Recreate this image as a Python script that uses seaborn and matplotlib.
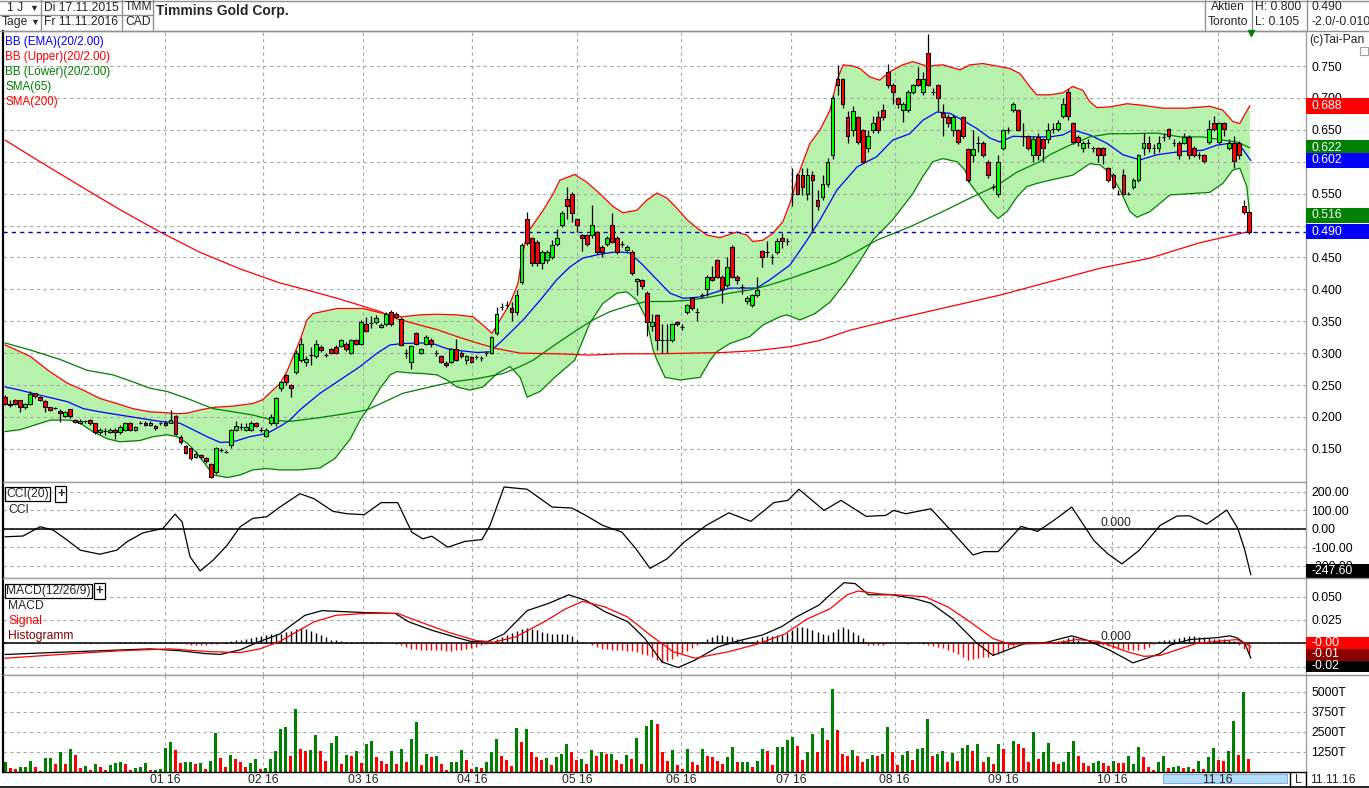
import numpy as np
import matplotlib
matplotlib.use("Agg")
import matplotlib.pyplot as plt
import matplotlib.patches as mpatches
import matplotlib.transforms as mtrans
from matplotlib.lines import Line2D
from matplotlib.ticker import FuncFormatter
import seaborn as sns

# ---------------------------------------------------------
# Daily candles, prices in 1/1000 CAD (17.11.2015 - 11.11.2016)
# ---------------------------------------------------------
opens = [232,218,226,226,216,220,237,232,225,215, 214,210,202,212,195,190,193,195,190,176,
         178,176,180,176,180,190,180,191,191,187, 186,190,191,191,201,169,155,151,137,140,
         136,127,114,148,145,156,180,185,180,180, 190,180,170,190,
         190,245,266,250,271,289,286,297,295,310, 297,306,310,311,315,300,320,315,346,348,
         349,341,346,365,362,354,300,286,331,300, 315,321,300,295,285,286,306,301,290,294,
         294,292,300,300,331,373,375,370,365,
         412,510,480,475,441,446,451,471,501,541, 550,510,485,485,485,490,467,471,501,480,
         471,461,459,413,415,395,342,360,320,320, 320,349,341,365,386,365,391,400,420,446,
         420,407,467,420,404,381,375,391,460,459, 451,459,480,476,
         550,580,580,550,580,540,545,565,610,730, 730,670,650,670,650,621,650,670,681,740,
         720,700,681,681,710,730,710,770,710,720, 676,670,650,650,670,620,610,630,630,600,
         560,550,621,650,681,681,640,640,
         610,639,636,636,652,652,671,710,660,639, 621,630,621,621,621,590,580,550,580,550,
         561,571,621,630,621,621,639,651,630,630, 630,639,621,610,610,631,660,631,660,621,
         630,630,530,521]
closes = [220,221,220,215,220,236,233,227,215,211, 214,206,207,201,192,194,193,190,176,180,
          178,180,176,185,190,180,185,191,187,191, 182,190,187,195,174,160,144,135,142,137,
          131,106,151,148,145,180,186,185,185,190, 186,180,180,200,
          229,255,255,245,300,315,291,297,315,305, 297,300,300,320,306,320,315,349,335,348,
          355,344,361,346,357,313,300,311,315,306, 326,315,300,286,281,306,290,296,295,286,
          294,292,300,325,361,373,375,365,391,
          469,472,441,441,459,459,469,480,520,530, 520,501,480,471,501,459,459,480,475,459,
          471,467,425,416,405,349,349,320,320,320, 345,345,341,375,370,365,391,420,415,420,
          400,435,420,415,404,386,391,399,450,459, 451,476,476,476,
          550,550,560,580,571,530,565,600,700,720, 690,640,680,631,600,640,660,650,670,720,
          710,690,690,710,720,720,730,720,710,700, 670,660,670,631,640,571,620,630,610,580,
          560,600,650,650,690,650,640,621,
          636,610,621,650,652,660,690,671,631,631, 630,630,621,610,610,571,561,550,550,550,
          571,610,630,621,621,630,639,640,630,610, 639,610,610,610,601,651,651,660,651,630,
          601,610,521,490]
highs = [234,226,228,227,222,241,238,233,226,216, 216,212,209,213,196,196,195,196,191,182,
         182,182,182,187,192,192,186,193,193,193, 188,192,193,211,203,171,156,152,146,142,
         137,128,153,151,148,181,194,190,190,193, 192,184,182,205,
         232,257,268,252,305,324,296,310,321,312, 300,308,312,322,317,322,322,352,356,358,
         360,347,364,368,364,356,306,313,333,308, 328,323,305,297,287,308,322,304,297,296,
         297,295,304,327,373,379,381,380,399,
         472,521,482,477,462,462,478,495,523,560, 552,512,487,487,532,492,470,483,520,483,
         476,469,461,418,417,397,362,362,345,345, 348,351,345,377,388,370,395,422,436,448,
         422,450,469,422,408,390,393,420,462,476, 455,480,488,480,
         590,583,590,590,585,555,580,606,705,752, 732,680,688,672,652,650,672,680,690,754,
         724,702,694,712,722,748,740,800,715,722, 690,675,673,652,672,622,650,640,632,602,
         565,610,652,655,693,683,660,642,
         640,645,638,660,660,665,700,714,663,642, 633,635,625,623,623,592,582,555,588,552,
         575,612,645,640,628,640,645,653,635,632, 645,642,625,615,612,665,672,662,662,635,
         640,632,540,523]
lows = [218,216,218,208,212,218,230,225,207,209, 212,192,200,199,190,189,191,188,174,174,
        172,175,166,174,178,178,178,189,186,186, 180,188,186,190,172,158,142,133,135,134,
        128,105,110,145,143,152,178,180,178,178, 184,176,168,188,
        186,240,250,232,268,286,280,282,292,302, 294,298,298,309,304,298,313,313,333,340,
        346,339,343,343,355,311,292,275,313,298, 313,310,295,284,279,284,288,293,283,284,
        291,288,296,298,329,368,370,350,360,
        408,470,436,437,432,442,448,468,498,511, 505,490,460,468,480,455,450,468,472,455,
        466,459,423,391,400,327,335,305,300,300, 318,343,337,361,367,350,387,389,413,418,
        378,404,418,408,393,377,373,388,435,450, 440,456,465,470,
        530,548,548,540,490,525,540,560,605,705, 685,630,640,628,598,615,645,645,665,715,
        690,685,662,678,706,718,705,718,705,680, 640,655,640,628,637,568,600,615,607,575,
        555,545,618,645,678,648,625,618,
        600,603,600,630,645,648,668,665,628,625, 615,622,615,600,597,568,557,548,548,548,
        558,568,610,616,612,615,633,636,625,605, 628,605,607,605,598,628,648,628,640,618,
        590,605,518,486]

# volume in thousand shares (nan = holiday gap), colour g/r per day
volume = [624,229,166,312,312,686,312,62,874,874, 500,1248,500,1435,1061,250,374,125,500,312,
          125,437,562,624,500,125,250,312,562,125, 125,187,1498,1872,1373,562,624,624,500,562,
          187,686,2434,874,312,1061,811,624,312,562, 811,187,250,811,1310,2683,2808,998,3931,1435,
          1310,1373,2309,1310,686,1810,2246,500,1061,998, 1310,562,1747,1934,936,686,500,1310,500,1435,
          624,2059,3120,437,1123,936,998,500,125,624, 624,1373,749,187,312,250,624,1248,2059,998,
          749,374,2746,1872,2683,1248,936,749,874,437, 936,1123,1747,1248,749,811,500,1373,998,1248,
          1123,1123,749,500,1061,811,2122,500,2870,3245, 2995,1248,686,1373,437,187,1435,624,437,1435,
          998,936,686,500,936,1560,624,624,624,312, 686,1435,1310,437,1560,1560,1997,2184,1622,749,
          1248,2371,1248,2746,1997,5179,2621,1123,998,1373, 998,624,811,1061,998,1123,2808,1248,437,1061,
          1310,749,1435,1498,3307,998,1123,1310,624,1186, 686,1498,1685,1310,1747,624,936,500,1747,1435,
          np.nan,1934,1747,1498,624,2496,811,1248,1810,624,500, 624,1248,1934,998,562,374,562,686,562,374,
          686,562,562,998,500,1560,936,312,125,624, 998,250,312,374,250,312,187,686,187,936,
          1498,749,686,1310,3183,1061,4992,811]
volume_col = ("grrgggrrgg" "rgrgrrgrgr" "rgggrrgggr" "ggggrrggrg" "rggrrgrrrg" "grgggggrgr"
              "rggrrggrgr" "grggrrrgrg" "rggrgrgrrg" "ggrrgrgggr" "rrgrgrrrgr" "gggrrgrgrg"
              "rgrrgrgrgg" "rrrgrrgrrg" "rrrrggrggr" "ggrrggggrr" "ggrgrgrrrg" "rrggrggrrg"
              "grgggrggrg" "rggrgrgrgr" "g" "grrrgrggrr" "gggrrrggrr" "grrgggrrrg" "grggrgrgrg"
              "grrggrgr")

# MACD histogram per day (1/1000)
macd_hist = [1,0,0,0,0,0,0,0,0,0, 0,0,0,0,0,1,1,1,0,0, 0,0,0,1,1,1,1,1,1,1,
             1,1,1,1,1,1,-1,-2,-2,-2, -2,-1,-1,0,1,2,3,4,5,6, 7,8,9,10,10,10,12,13,15,16,
             15,13,11,9,7,4,3,2,1,1, 1,1,1,1,1,1,0,0,-1,-2, -4,-6,-6,-7,-7,-7,-7,-7,-8,-8,
             -7,-7,-6,-5,-4,-2,-1,2,5,7, 9,11,13,15,16,15,14,12,11,10, 10,10,10,8,4,1,0,-2,-4,-6,
             -6,-7,-7,-7,-8,-8,-9,-11,-13,-15, -18,-20,-19,-17,-14,-10,-8,-5,-2,1,
             5,7,9,9,8,7,5,3,1,1, 4,7,8,8,9,9,11,14,18,17, 16,14,12,10,9,12,15,18,15,12,
             9,6,-2,-2,-2,-2,0,0,0,0, -1,0,0,-1,-2,-3,-4,-5,-7,-9, -12,-15,-18,-17,-16,-15,-15,-13,-11,-8,
             -5,-3,1,1,1,0,0,0,1,1, 2,4,6,7,4,1,0,-1,-2,-2, -3,-5,-6,-6,-7,-7,-7,-6,-4,-1,
             2,3,4,5,6,7,8,8,7,7, 6,5,5,5,4,2,-2,-6,-12]

# ---------------------------------------------------------
# Indicator lines: (day, value)
# ---------------------------------------------------------
bb_up_day = [0,5.0,8.6,12.4,15.6,18.9,22.3,25.5,28.9,31.5, 34.3,36.3,38.9,41.5,45.5,49.4,51.4,53.4,54.8,56.2,
             58.8,60.2,61.4,66.2,71.4,73.4,76.2,79.1,82.7,86.1, 90.1,93.3,95.3,97.1,98.7,100.7,102.3,103.1,104.1,107.3,
             109.3,110.6,113.6,116.0,118.6,121.2,123.2,126.0,128.0,130.0, 132.0,134.0,136.0,138.0,140.0,142.5,145.9,147.9,149.1,151.1,
             153.1,155.1,156.5,158.5,160.5,162.5,164.5,165.9,167.1,169.1, 170.5,172.4,174.4,176.4,179.0,181.0,183.8,187.0,190.4,192.4,
             195.0,197.8,200.4,202.4,204.3,205.7,208.3,210.9,212.9,214.9, 216.3,217.7,220.3,223.7,226.3,230.9,235.6,240.2,242.8,244.8,
             246.2,248.2]
bb_up = [313,295,273,253,242,229,221,213,208,207, 205,206,211,215,217,221,227,242,252,271,
         320,352,362,370,370,366,361,357,360,361, 360,357,344,331,352,378,410,451,488,524,
         550,571,580,568,550,530,520,524,540,551, 543,527,509,496,485,481,490,485,475,477,
         488,506,535,587,629,650,681,728,752,750, 746,733,728,741,752,757,750,752,744,752,
         754,750,746,738,718,705,705,708,718,712, 694,685,686,691,689,684,684,687,681,663,
         660,688]
bb_low_day = [0,3.0,9.0,13.0,15.0,17.5,20.3,22.9,26.9,29.5, 32.3,34.3,36.3,38.3,40.3,41.5,44.3,46.9,49.4,52.2,
              54.8,58.8,62.8,65.8,68.8,70.8,72.2,74.8,76.8,78.1, 80.7,83.3,86.1,88.1,90.1,92.7,95.3,98.1,100.7,102.7,
              104.1,106.7,109.6,113.6,116.6,119.2,122.0,124.0,126.0,128.0, 129.2,130.0,131.6,134.6,138.6,140.6,141.9,144.5,148.5,151.1,
              154.5,155.9,158.5,161.5,164.5,167.5,170.5,173.0,177.0,181.0, 183.0,185.0,187.0,189.8,191.4,192.4,194.4,196.4,198.0,199.8,
              201.8,203.7,205.7,208.3,212.9,216.3,218.4,220.3,222.3,224.3, 225.7,228.3,232.3,236.2,240.2,242.8,244.8,246.2,247.6,248.2]
bb_low = [177,180,195,195,190,177,166,161,163,169, 172,169,159,143,122,109,105,109,117,119,
          117,117,120,135,165,195,211,245,266,271, 269,268,266,258,247,242,247,268,279,262,
          231,240,262,289,347,378,394,396,383,352, 305,289,262,258,262,289,302,315,326,344,
          357,360,352,362,380,410,445,477,509,550, 577,600,605,600,587,566,545,524,511,522,
          545,561,566,571,579,597,595,582,556,522, 513,522,548,550,552,566,587,590,561,516]
ema_day = [0,3.0,7.0,12.4,15.6,18.9,22.9,26.9,30.9,34.9, 37.5,40.3,42.9,45.5,48.8,52.2,54.8,56.8,58.8,62.8,
           66.8,70.8,74.2,76.8,79.3,82.7,85.3,88.1,90.7,94.1, 96.7,99.3,103.3,106.7,110.0,112.6,115.2,118.6,122.0,124.6,
           127.2,130.0,132.6,135.2,138.6,141.9,144.5,147.1,149.9,152.5, 155.1,156.5,159.9,162.5,165.9,169.9,173.8,177.0,180.4,183.0,
           185.8,188.4,191.0,193.8,196.4,198.4,201.0,204.3,208.3,210.9, 212.9,216.3,219.7,222.9,226.3,229.7,234.3,238.8,241.6,244.2,
           246.2,248.4]
ema = [247,242,234,224,213,208,203,198,193,190, 180,169,160,161,169,174,185,195,211,237,
       258,279,300,313,315,316,315,307,304,301, 302,321,352,383,415,435,449,455,459,457,
       438,415,394,386,388,396,402,402,402,415, 430,438,477,509,556,592,608,634,644,665,
       678,676,665,652,637,631,640,639,639,642, 650,642,629,611,603,611,616,618,626,629,
       626,602]
sma65_day = [0,5.0,11.0,16.4,21.5,25.5,28.9,32.3,36.3,38.9, 41.5,45.5,49.4,53.4,56.8,62.8,67.8,72.2,79.3,84.7,
             89.3,94.1,99.3,102.7,105.3,110.0,114.0,117.2,120.6,124.6, 128.0,132.6,136.6,140.6,144.5,148.5,152.5,156.5,160.5,165.5,
             169.5,173.8,180.4,187.0,192.4,197.8,201.8,206.3,208.3,212.3, 216.3,220.3,224.3,229.7,234.3,238.8,242.8,245.6,248.2]
sma65 = [316,305,290,273,266,255,245,240,229,221, 213,208,203,195,193,199,205,211,237,247,
         255,260,268,279,289,315,336,352,365,375, 381,381,383,388,394,399,407,417,428,442,
         458,477,498,522,543,563,584,600,611,626, 639,644,644,645,639,639,634,631,622]
sma200_day = [0,7.0,15.0,22.9,30.9,38.9,46.9,54.8,60.2,66.2, 70.8,74.8,78.1,82.7,86.1,90.1,94.1,98.1,102.7,110.0,
              116.6,123.2,130.0,136.6,143.1,149.9,156.5,162.5,168.5,178.4, 198.4,218.3,228.3,238.2,248.2]
sma200 = [634,600,562,525,490,458,432,410,399,386, 375,365,354,344,337,326,316,307,300,299,
          297,299,299,300,301,304,310,320,336,355, 391,433,449,473,491]

cci_day = [0,3.6,7.0,9.6,12.4,15.0,18.9,22.3,24.3,27.5, 31.5,33.9,35.3,36.9,38.9,41.5,44.3,46.9,49.4,52.2,
           54.8,58.8,61.6,65.4,68.2,71.6,75.0,78.3,81.1,83.3, 85.1,88.3,91.7,95.1,96.7,99.5,104.1,109.1,113.0,115.8,
           119.2,123.0,125.8,128.6,132.0,135.4,139.8,144.3,148.7,153.3, 156.1,158.3,163.3,166.7,171.7,175.6,177.2,179.6,184.6,188.6,
           193.0,195.2,198.0,202.6,205.9,209.1,212.7,217.1,219.9,222.7, 226.1,230.3,233.7,236.2,239.6,243.6,245.8,247.2,248.4]
cci = [-43,-39,11,-7,-61,-115,-137,-115,-70,-22, 2,79,38,-151,-227,-169,-88,11,56,65,
       117,189,162,94,81,76,141,141,-18,-54, -40,-99,-68,-58,18,225,213,117,112,72,
       18,-18,-108,-213,-162,-72,18,86,40,141, 153,213,99,153,67,72,99,81,108,-9,
       -141,-123,-123,13,-14,45,117,-63,-135,-189, -117,18,69,70,25,101,2,-115,-247.6]

macd_day = [0,9.0,18.9,28.9,34.9,39.9,42.9,46.9,50.8,54.8, 57.0,59.8,63.2,67.2,71.6,77.8,80.5,85.1,89.5,92.9,
            96.3,99.5,104.1,108.5,112.4,115.8,119.6,124.2,127.6,131.0, 134.2,137.6,142.1,146.5,151.1,154.9,157.7,162.3,164.5,167.3,
            169.5,172.2,176.8,181.2,184.6,189.0,193.6,197.0,200.4,203.5, 206.9,212.7,215.9,220.5,224.9,227.7,230.3,232.3,236.2,241.6,
            244.2,245.6,247.2,248.4]
macd = [-12,-10,-8,-6,-8,-11,-12,-7,2,10, 19,30,35,34,33,32,23,14,7,2,
        2,10,35,43,52,46,34,23,5,-20, -26,-18,-4,3,9,18,28,41,52,65,
        64,52,52,48,43,26,1,-13,-6,0, 0,8,3,-8,-21,-16,-11,-2,4,6,
        8,6,0,-16]
signal_day = [0,11.0,22.9,32.9,40.9,46.9,50.8,54.8,61.6,66.0, 71.6,78.3,82.7,88.3,93.9,97.3,101.9,107.5,111.8,115.2,
              119.6,124.2,128.6,133.2,137.6,144.3,149.9,155.5,159.9,164.5, 167.9,170.1,174.4,183.4,188.0,192.4,197.0,200.4,209.1,213.7,
              218.1,223.7,227.1,230.3,237.6,241.6,245.6,247.6,248.4]
signal = [-16,-12,-8,-6,-9,-10,-6,2,23,30, 32,32,23,12,3,1,7,23,37,45,
          39,28,9,-9,-16,-9,-1,10,26,37, 52,56,53,50,39,23,5,-1,0,4,
          2,-9,-14,-13,0,2,4,-1,-4]

month_pos = [31.9, 51.4, 71.4, 93.1, 114.0, 134.8, 156.7, 177.4, 199.0, 220.7, 241.8]
month_lbl = ['01 16', '02 16', '03 16', '04 16', '05 16', '06 16',
             '07 16', '08 16', '09 16', '10 16', '11 16']
price_ticks = [0.150, 0.200, 0.250, 0.300, 0.350, 0.400, 0.450, 0.500,
               0.550, 0.600, 0.650, 0.700, 0.750]
# labels under the value boxes are covered in the original
price_tick_lbl = ['0.150', '0.200', '0.250', '0.300', '0.350', '0.400', '0.450', '',
                  '0.550', '', '0.650', '0.700', '0.750']
cci_ticks = [-200, -100, 0, 100, 200]
macd_ticks = [-0.025, 0, 0.025, 0.05]
macd_tick_lbl = ['', '', '0.025', '0.050']
vol_ticks = [1250, 2500, 3750, 5000]

# ---------------------------------------------------------
# Figure
# ---------------------------------------------------------
sns.set_style("white")
plt.rcParams['font.family'] = ['Liberation Sans', 'DejaVu Sans']
plt.rcParams['font.size'] = 8.7

W, H = 1369, 788
fig = plt.figure(figsize=(W / 100, H / 100), dpi=100)


def rect(x0, y0, x1, y1):
    return [x0 / W, 1 - y1 / H, (x1 - x0) / W, (y1 - y0) / H]


ax_p = fig.add_axes(rect(3, 31, 1306, 482))
ax_c = fig.add_axes(rect(3, 482, 1306, 578), sharex=ax_p)
ax_m = fig.add_axes(rect(3, 578, 1306, 675), sharex=ax_p)
ax_v = fig.add_axes(rect(3, 675, 1306, 772), sharex=ax_p)

GRID = dict(color='#a8a8a8', lw=0.8, linestyle=(0, (3, 3)))
GREEN, RED, BLUE = '#008000', '#ff0000', '#0000ff'

o = np.array(opens) / 1000
c = np.array(closes) / 1000
h = np.array(highs) / 1000
l = np.array(lows) / 1000
x = np.arange(len(c))

# --- price panel
ax_p.fill(np.r_[bb_up_day, bb_low_day[::-1]], np.r_[bb_up, bb_low[::-1]] / 1000,
          color='#b6f2ac', lw=0, zorder=0.8)
for d, v, col in [(bb_up_day, bb_up, RED), (bb_low_day, bb_low, GREEN),
                  (ema_day, ema, BLUE), (sma65_day, sma65, GREEN),
                  (sma200_day, sma200, RED)]:
    sns.lineplot(x=np.array(d), y=np.array(v) / 1000, ax=ax_p, color=col, lw=0.9,
                 sort=False, estimator=None, legend=False, zorder=2)
ax_p.axhline(c[-1], color='#0000c8', lw=1, dashes=(3, 3), zorder=2.2)
ax_p.vlines(x, l, h, color='black', lw=0.9, zorder=3)
body_col = np.where(c >= o, '#00ff00', '#ff0000')
ax_p.bar(x, np.abs(c - o), bottom=np.minimum(o, c), width=0.76, color=body_col,
         edgecolor='black', linewidth=0.75, zorder=4)
ax_p.set_ylim(0.098, 0.805)
ax_p.set_yticks(price_ticks)
ax_p.set_yticklabels(price_tick_lbl)

# --- CCI panel
sns.lineplot(x=np.array(cci_day), y=np.array(cci), ax=ax_c, color='black', lw=0.9,
             sort=False, estimator=None, legend=False, zorder=3)
ax_c.axhline(0, color='black', lw=1.1, zorder=2)
ax_c.set_ylim(-265, 252)
ax_c.set_yticks(cci_ticks)
ax_c.yaxis.set_major_formatter(FuncFormatter(lambda v, _: f'{v:.2f}'))

# --- MACD panel
hist = np.array(macd_hist) / 1000
xh = np.arange(len(hist))
ax_m.vlines(xh, 0, hist, colors=np.where(hist >= 0, 'black', RED), lw=1.0, zorder=2)
ax_m.axhline(0, color='black', lw=1.1, zorder=2.5)
sns.lineplot(x=np.array(macd_day), y=np.array(macd) / 1000, ax=ax_m, color='black',
             lw=0.9, sort=False, estimator=None, legend=False, zorder=3)
sns.lineplot(x=np.array(signal_day), y=np.array(signal) / 1000, ax=ax_m, color=RED,
             lw=0.9, sort=False, estimator=None, legend=False, zorder=3)
ax_m.set_ylim(-0.034, 0.070)
ax_m.set_yticks(macd_ticks)
ax_m.set_yticklabels(macd_tick_lbl)

# --- volume panel
vol = np.array(volume, dtype=float)
vcol = [GREEN if ch == 'g' else RED for ch in volume_col]
ax_v.bar(np.arange(len(vol)), vol, width=0.6, color=vcol, lw=0, zorder=2)
ax_v.set_ylim(0, 6044)
ax_v.set_yticks(vol_ticks)
ax_v.set_yticklabels([f'{t}T' for t in vol_ticks])

for ax in (ax_p, ax_c, ax_m, ax_v):
    ax.set_xlim(-0.4, 259.4)
    ax.set_xticks(month_pos)
    ax.grid(True, **GRID)
    ax.set_axisbelow('line')
    ax.yaxis.tick_right()
    ax.tick_params(axis='y', length=0, pad=4, labelsize=8.7, colors='black')
    ax.set_xlabel('')
    ax.set_ylabel('')
    for s in ax.spines.values():
        s.set_color('#a0a0a0')
        s.set_linewidth(1)
    ax.spines['left'].set_color('black')
    ax.spines['left'].set_linewidth(1.6)
for ax in (ax_p, ax_c, ax_m):
    ax.tick_params(axis='x', length=0, labelbottom=False)
ax_v.spines['bottom'].set_color('black')
ax_v.set_xticklabels(month_lbl)
ax_v.tick_params(axis='x', direction='out', length=12, width=1, color='black',
                 pad=-10.5, labelsize=8.7)

# --- value boxes at the right edge


def value_box(ax, v, txt, fc, h_px, shift_px=0, tc='white'):
    ylo, yhi = ax.get_ylim()
    per_px = (yhi - ylo) / (ax.get_position().height * H)
    dv = h_px * per_px
    v = v - shift_px * per_px
    v = min(max(v, ylo + dv / 2), yhi - dv / 2)
    tr = mtrans.blended_transform_factory(ax.transAxes, ax.transData)
    ax.add_patch(mpatches.Rectangle((1.0, v - dv / 2), 63 / 1303, dv, transform=tr,
                                    facecolor=fc, edgecolor='none', clip_on=False, zorder=6))
    ax.text(1.004, v, txt, transform=tr, color=tc, va='center', ha='left',
            fontsize=8.7, clip_on=False, zorder=7)


value_box(ax_p, bb_up[-1] / 1000, f'{bb_up[-1] / 1000:.3f}', RED, 16)
value_box(ax_p, sma65[-1] / 1000, f'{sma65[-1] / 1000:.3f}', GREEN, 15)
value_box(ax_p, ema[-1] / 1000, f'{ema[-1] / 1000:.3f}', BLUE, 15)
value_box(ax_p, bb_low[-1] / 1000, f'{bb_low[-1] / 1000:.3f}', GREEN, 15)
value_box(ax_p, c[-1], f'{c[-1]:.3f}', BLUE, 15)
value_box(ax_c, cci[-1], f'{cci[-1]:.2f}', 'black', 14)
value_box(ax_m, macd[-1] / 1000, f'{macd[-1] / 1000:.2f}', 'black', 12, shift_px=8)
value_box(ax_m, macd_hist[-1] / 1000, f'{macd_hist[-1] / 1000:.2f}', '#8b0000', 13)
value_box(ax_m, signal[-1] / 1000, f'{signal[-1] / 1000:.2f}', RED, 12, shift_px=-4)

for ax in (ax_c, ax_m):
    tr = mtrans.blended_transform_factory(ax.transAxes, ax.transData)
    ax.text(0.842, 0, '0.000', transform=tr, va='bottom', ha='left', fontsize=8.7, zorder=5)

# ---------------------------------------------------------
# Header, legends and frame decorations
# ---------------------------------------------------------


def ftext(px, py, s, **kw):
    kw.setdefault('va', 'center')
    kw.setdefault('fontsize', 8.7)
    fig.text(px / W, 1 - py / H, s, **kw)


def fline(x0, y0, x1, y1, col='#909090', lw=1):
    fig.add_artist(Line2D([x0 / W, x1 / W], [1 - y0 / H, 1 - y1 / H], color=col, lw=lw))


for xx in (41, 122, 153, 1205, 1252, 1307):
    fline(xx, 0, xx, 30)
fline(0, 15, 153, 15)
fline(0, 0.5, W, 0.5)
fline(0, 30.5, W, 30.5)
fline(1306, 578, W, 578)
fline(1306, 675, W, 675)
fline(1290, 772, 1290, 788, col='black')
fline(1306, 772, 1306, 788, col='black')
fline(0, 787, W, 787, col='black', lw=1.2)

ftext(7, 8, '1 J')
ftext(29, 8, '\u25bc', fontsize=6.5)
ftext(2, 22, 'Tage')
ftext(30, 22, '\u25bc', fontsize=6.5)
ftext(44, 8, 'Di 17.11.2015')
ftext(44, 22, 'Fr 11.11.2016')
ftext(125, 7, 'TMM')
ftext(125, 22, 'CAD')
ftext(156, 11, 'Timmins Gold Corp.', fontsize=10, fontweight='bold')
ftext(1228, 7, 'Aktien', ha='center')
ftext(1228, 22, 'Toronto', ha='center')
ftext(1255, 7, 'H: 0.800')
ftext(1255, 22, 'L: 0.105')
ftext(1312, 7, f'{c[-1]:.3f}')
ftext(1312, 22, '-2.0/-0.010')
ftext(1309, 40, '(c)Tai-Pan')
fig.add_artist(mpatches.Rectangle((1360 / W, 1 - 55 / H), 8 / W, 8 / H, transform=fig.transFigure,
                                  facecolor='white', edgecolor='#a0a0a0', lw=0.8))
fig.add_artist(Line2D([1251 / W], [1 - 33 / H], marker='v', color=GREEN, markersize=5, lw=0))

for yy, s, col in [(42, 'BB (EMA)(20/2.00)', BLUE), (57, 'BB (Upper)(20/2.00)', RED),
                   (72, 'BB (Lower)(20/2.00)', GREEN), (87, 'SMA(65)', GREEN),
                   (102, 'SMA(200)', RED)]:
    ftext(5, yy, s, color=col, fontsize=8.4)

boxkw = dict(boxstyle='square,pad=0.12', fc='white', ec='black', lw=0.9)
ftext(6, 494, 'CCI(20)', bbox=boxkw)
ftext(57, 494, '+', fontweight='bold', fontsize=9.5, bbox=boxkw)
ftext(8, 510, 'CCI')
ftext(6, 591, 'MACD(12/26/9)', bbox=boxkw)
ftext(96, 591, '+', fontweight='bold', fontsize=9.5, bbox=boxkw)
ftext(8, 606, 'MACD')
ftext(8, 621, 'Signal', color=RED)
ftext(8, 636, 'Histogramm', color='#800000')

fig.add_artist(mpatches.Rectangle((1163 / W, 1 - 783 / H), 124 / W, 9 / H, transform=fig.transFigure,
                                  facecolor='#b4dcf8', edgecolor='#80b4e8', lw=0.8, zorder=-1))
ftext(1298, 780, 'L', ha='center')
ftext(1310, 780, '11.11.16')

fig.savefig('out.png', dpi=100)
